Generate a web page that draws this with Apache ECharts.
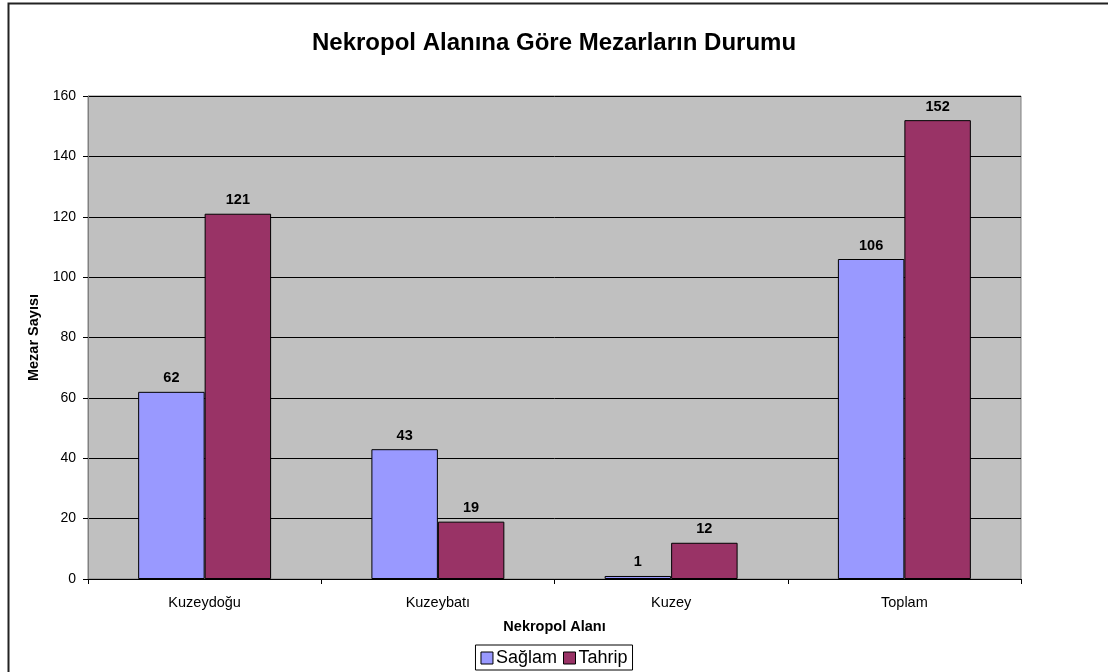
<!DOCTYPE html>
<html>
<head>
<meta charset="utf-8">
<script src="https://cdn.jsdelivr.net/npm/echarts@6/dist/echarts.min.js"></script>
<style>
html,body{margin:0;padding:0;background:#fff;}
#c{width:1108px;height:672px;}
</style>
</head>
<body>
<div id="c"></div>
<script>
const categories = ['Kuzeydoğu', 'Kuzeybatı', 'Kuzey', 'Toplam'];
const saglam = [62, 43, 1, 106];
const tahrip = [121, 19, 12, 152];
const seriesNames = ['Sağlam', 'Tahrip'];
const yTicks = { min: 0, max: 160, interval: 20 };

const chart = echarts.init(document.getElementById('c'));
const FONT = 'Liberation Sans, Arial, sans-serif';
const labelCfg = {
  show: true, position: 'top', distance: 6,
  color: '#000', fontWeight: 'bold', fontSize: 14.5, fontFamily: FONT
};
chart.setOption({
  animation: false,
  backgroundColor: '#fff',
  graphic: [
    { type: 'rect', shape: { x: 8.5, y: 3.5, width: 1200, height: 800 },
      style: { fill: 'none', stroke: '#222', lineWidth: 2 }, z: 100 }
  ],
  title: {
    text: 'Nekropol Alanına Göre Mezarların Durumu',
    left: 'center', top: 26,
    textStyle: { fontSize: 24, fontWeight: 'bold', color: '#000', fontFamily: FONT }
  },
  legend: {
    data: seriesNames, bottom: 2, left: 'center',
    itemWidth: 12, itemHeight: 12, itemGap: 6,
    borderColor: '#000', borderWidth: 1, padding: [4, 5, 3, 5],
    icon: 'rect',
    itemStyle: { borderColor: '#000', borderWidth: 1 },
    textStyle: { fontSize: 18, color: '#000', fontFamily: FONT, padding: [0, 0, 0, -2] }
  },
  grid: { left: 88, right: 87, top: 96, bottom: 93, show: true,
          backgroundColor: '#C0C0C0', borderColor: '#808080', borderWidth: 1 },
  xAxis: {
    type: 'category', data: categories,
    name: 'Nekropol Alanı', nameLocation: 'middle', nameGap: 40,
    nameTextStyle: { fontSize: 14.5, fontWeight: 'bold', color: '#000', fontFamily: FONT },
    axisLine: { lineStyle: { color: '#000', width: 1 } },
    axisTick: { show: true, length: 5, lineStyle: { color: '#000' } },
    axisLabel: { fontSize: 14.5, color: '#000', fontFamily: FONT, margin: 16 }
  },
  yAxis: {
    type: 'value', min: yTicks.min, max: yTicks.max, interval: yTicks.interval,
    name: 'Mezar Sayısı', nameLocation: 'middle', nameGap: 47, nameRotate: 90,
    nameTextStyle: { fontSize: 14.5, fontWeight: 'bold', color: '#000', fontFamily: FONT },
    axisLine: { show: true, lineStyle: { color: '#808080', width: 1 } },
    axisTick: { show: true, length: 5, lineStyle: { color: '#000' } },
    axisLabel: { fontSize: 14, color: '#000', fontFamily: FONT, margin: 12 },
    splitLine: { show: true, lineStyle: { color: '#000', width: 1 } }
  },
  series: [
    { name: seriesNames[0], type: 'bar', data: saglam, barGap: '0%', barCategoryGap: '43%',
      itemStyle: { color: '#9999FF', borderColor: '#000', borderWidth: 1 }, label: labelCfg },
    { name: seriesNames[1], type: 'bar', data: tahrip, barGap: '0%', barCategoryGap: '43%',
      itemStyle: { color: '#993366', borderColor: '#000', borderWidth: 1 }, label: labelCfg }
  ]
});
</script>
</body>
</html>
